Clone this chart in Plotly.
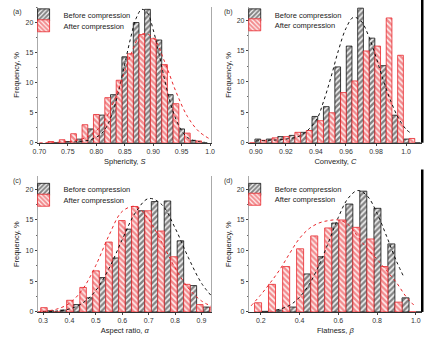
import plotly.graph_objects as go

# ---------------- data ----------------
# (a) Sphericity
a_bins = [0.725, 0.745, 0.765, 0.785, 0.805, 0.825, 0.845, 0.865, 0.885, 0.905, 0.925, 0.945, 0.965, 0.985]
a_before = [0.0, 0.2, 0.6, 2.3, 4.6, 8.0, 14.3, 20.0, 22.2, 17.1, 8.0, 2.3, 0.4, 0.0]
a_after = [0.2, 0.5, 1.5, 3.0, 4.7, 7.5, 10.4, 14.8, 18.0, 17.3, 13.0, 6.5, 1.6, 0.3]
a_binw = 0.02
a_fitb_x = [0.76, 0.77, 0.78, 0.79, 0.80, 0.81, 0.82, 0.83, 0.84, 0.85, 0.86, 0.87, 0.88, 0.89, 0.90, 0.91, 0.92, 0.93, 0.94, 0.95, 0.96, 0.97, 0.98, 0.99]
a_fitb_y = [0.1, 0.2, 0.3, 0.5, 0.9, 1.6, 3.0, 5.4, 8.9, 13.1, 17.3, 20.7, 22.2, 21.6, 18.8, 14.9, 10.5, 6.7, 3.9, 2.0, 0.9, 0.4, 0.2, 0.1]
a_fita_x = [0.70, 0.72, 0.74, 0.76, 0.78, 0.80, 0.82, 0.84, 0.86, 0.88, 0.90, 0.92, 0.94, 0.96, 0.98, 1.00]
a_fita_y = [0.0, 0.05, 0.1, 0.3, 0.8, 2.0, 4.6, 9.2, 14.5, 18.1, 17.5, 13.5, 8.5, 4.4, 1.9, 0.6]

# (b) Convexity
b_bins = [0.8994, 0.9070, 0.9146, 0.9222, 0.9298, 0.9374, 0.9450, 0.9526, 0.9602, 0.9678, 0.9754, 0.9830, 0.9906, 0.9982, 1.0058]
b_before = [0.6, 0.6, 1.0, 1.2, 1.7, 4.3, 5.9, 12.4, 15.8, 22.0, 17.1, 12.6, 4.5, 0.6, 0.0]
b_after = [0.0, 0.4, 0.8, 1.0, 1.7, 2.0, 3.6, 4.9, 8.2, 10.1, 15.0, 15.8, 20.4, 14.3, 0.7]
b_binw = 0.0076
b_fitb_x = [0.90, 0.91, 0.92, 0.93, 0.94, 0.945, 0.95, 0.955, 0.96, 0.965, 0.97, 0.975, 0.98, 0.985, 0.99, 0.995, 1.0, 1.003]
b_fitb_y = [0.3, 0.4, 0.6, 1.2, 3.6, 6.7, 10.7, 15.1, 18.7, 20.5, 19.9, 17.5, 14.0, 10.1, 6.7, 4.0, 2.2, 1.6]

# (c) Aspect ratio
c_bins = [0.316, 0.365, 0.414, 0.464, 0.513, 0.562, 0.611, 0.660, 0.710, 0.759, 0.808, 0.857, 0.906, 0.956]
c_before = [0.2, 0.3, 1.2, 2.3, 5.6, 8.8, 13.5, 16.5, 18.0, 18.1, 11.6, 4.3, 0.8, 0.0]
c_after = [0.7, 0.0, 1.9, 4.0, 6.7, 11.4, 14.9, 17.2, 16.5, 13.2, 9.0, 4.5, 1.2, 0.8]
c_binw = 0.0492
c_fitb_x = [0.30, 0.35, 0.40, 0.45, 0.50, 0.55, 0.60, 0.65, 0.70, 0.75, 0.80, 0.85, 0.90, 0.94]
c_fitb_y = [0.03, 0.14, 0.49, 1.45, 3.5, 7.1, 11.8, 16.2, 18.5, 17.5, 13.7, 8.9, 4.7, 2.5]
c_fita_x = [0.28, 0.30, 0.35, 0.40, 0.45, 0.50, 0.55, 0.60, 0.65, 0.70, 0.75, 0.80, 0.85, 0.90, 0.94]
c_fita_y = [0.06, 0.1, 0.44, 1.4, 3.7, 7.6, 12.5, 16.4, 17.2, 15.1, 11.3, 7.2, 3.9, 1.8, 0.9]

# (d) Flatness
d_bins = [0.204, 0.276, 0.349, 0.421, 0.494, 0.566, 0.639, 0.711, 0.784, 0.856, 0.929, 1.001]
d_before = [0.1, 0.3, 0.8, 6.2, 9.0, 14.5, 17.6, 19.7, 16.9, 11.1, 2.3, 0.0]
d_after = [1.5, 4.5, 7.4, 10.3, 12.4, 13.7, 15.0, 13.8, 11.9, 7.4, 1.6, 0.0]
d_binw = 0.0725
d_fitb_x = [0.28, 0.30, 0.35, 0.40, 0.45, 0.50, 0.55, 0.60, 0.65, 0.70, 0.75, 0.80, 0.85, 0.90, 0.94]
d_fitb_y = [0.3, 0.47, 1.1, 2.4, 4.5, 7.6, 11.4, 15.4, 18.5, 19.8, 18.9, 16.1, 12.3, 8.3, 5.6]
d_fita_x = [0.15, 0.20, 0.25, 0.30, 0.35, 0.40, 0.45, 0.50, 0.55, 0.60, 0.65, 0.70, 0.75, 0.80, 0.85, 0.90, 0.95, 1.00]
d_fita_y = [1.0, 2.8, 4.8, 7.0, 9.6, 12.0, 13.6, 14.5, 14.9, 15.0, 14.3, 12.3, 10.3, 8.6, 6.7, 4.8, 2.5, 0.8]

series_names = ["Before compression", "After compression"]
x_titles = ["Sphericity, <i>S</i>", "Convexity, <i>C</i>", "Aspect ratio, <i>α</i>", "Flatness, <i>β</i>"]
y_title = "Frequency, %"
panel_labels = ["(a)", "(b)", "(c)", "(d)"]
x_tickvals = [
    [0.70, 0.75, 0.80, 0.85, 0.90, 0.95, 1.0],
    [0.90, 0.92, 0.94, 0.96, 0.98, 1.0],
    [0.3, 0.4, 0.5, 0.6, 0.7, 0.8, 0.9],
    [0.2, 0.4, 0.6, 0.8, 1.0],
]
x_ticktext = [
    ["0.70", "0.75", "0.80", "0.85", "0.90", "0.95", "1.0"],
    ["0.90", "0.92", "0.94", "0.96", "0.98", "1.0"],
    ["0.3", "0.4", "0.5", "0.6", "0.7", "0.8", "0.9"],
    ["0.2", "0.4", "0.6", "0.8", "1.0"],
]
y_tickvals = [0, 5, 10, 15, 20]

# ---------------- styling / layout ----------------
W, H = 442, 343
BLACK = "#111111"
RED = "#e8262b"
FONT = "Liberation Sans, Arial, sans-serif"

panels = [
    dict(bins=a_bins, before=a_before, after=a_after, w=a_binw,
         fb=(a_fitb_x, a_fitb_y), fa=(a_fita_x, a_fita_y),
         xr=[0.698, 1.002], yr=[0, 22.6], px=(33, 210), py=(7, 144), leg=(15, 26)),
    dict(bins=b_bins, before=b_before, after=b_after, w=b_binw,
         fb=(b_fitb_x, b_fitb_y), fa=None,
         xr=[0.8957, 1.0102], yr=[0, 22.2], px=(249, 425), py=(7, 144), leg=(15, 25)),
    dict(bins=c_bins, before=c_before, after=c_after, w=c_binw,
         fb=(c_fitb_x, c_fitb_y), fa=(c_fita_x, c_fita_y),
         xr=[0.282, 0.937], yr=[0, 22.1], px=(33, 210), py=(178, 314.7), leg=(191, 202)),
    dict(bins=d_bins, before=d_before, after=d_after, w=d_binw,
         fb=(d_fitb_x, d_fitb_y), fa=(d_fita_x, d_fita_y),
         xr=[0.141, 1.029], yr=[0, 22.1], px=(249, 425), py=(178, 314.7), leg=(191, 201)),
]

fig = go.Figure()
layout = dict(
    width=W, height=H, margin=dict(l=0, r=0, t=0, b=0),
    paper_bgcolor="white", plot_bgcolor="white",
    barmode="overlay", showlegend=True,
    font=dict(family=FONT, size=7, color="#333"),
)
annotations = []
shapes = []

for i, p in enumerate(panels):
    n = i + 1
    xa = "x" if n == 1 else f"x{n}"
    ya = "y" if n == 1 else f"y{n}"
    lg_b = "legend" if n == 1 else f"legend{2 * i + 1}"
    lg_a = f"legend{2 * i + 2}"
    half = p["w"] / 2
    x_after = [c - p["w"] / 4 for c in p["bins"]]
    x_before = [c + p["w"] / 4 for c in p["bins"]]

    fig.add_trace(go.Bar(
        x=x_before, y=p["before"], width=half, name=series_names[0],
        xaxis=xa, yaxis=ya, legend=lg_b,
        marker=dict(color="white",
                    pattern=dict(shape="/", fgcolor=BLACK, bgcolor="#f4f4f4", size=4, solidity=0.6),
                    line=dict(color=BLACK, width=0.8)),
    ))
    fig.add_trace(go.Bar(
        x=x_after, y=p["after"], width=half, name=series_names[1],
        xaxis=xa, yaxis=ya, legend=lg_a,
        marker=dict(color="white",
                    pattern=dict(shape="\\", fgcolor=RED, bgcolor="#fdf0f0", size=4, solidity=0.6),
                    line=dict(color=RED, width=0.8)),
    ))
    fig.add_trace(go.Scatter(
        x=p["fb"][0], y=p["fb"][1], mode="lines", line=dict(color=BLACK, width=1, dash="dot", shape="spline"),
        xaxis=xa, yaxis=ya, showlegend=False, hoverinfo="skip"))
    if p["fa"] is not None:
        fig.add_trace(go.Scatter(
            x=p["fa"][0], y=p["fa"][1], mode="lines", line=dict(color=RED, width=1, dash="dot", shape="spline"),
            xaxis=xa, yaxis=ya, showlegend=False, hoverinfo="skip"))

    x0, x1 = p["px"]
    yt, yb = p["py"]
    xkey = "xaxis" if n == 1 else f"xaxis{n}"
    ykey = "yaxis" if n == 1 else f"yaxis{n}"
    layout[xkey] = dict(
        domain=[x0 / W, x1 / W], anchor=ya, range=p["xr"],
        tickvals=x_tickvals[i], ticktext=x_ticktext[i],
        ticks="outside", ticklen=2, tickcolor="#444", showgrid=False, zeroline=False,
        showline=True, linecolor="#333", linewidth=1,
        tickfont=dict(size=7, color="#333"),
        title=dict(text=x_titles[i], font=dict(size=7.5, color="#222"), standoff=4),
    )
    layout[ykey] = dict(
        domain=[1 - yb / H, 1 - yt / H], anchor=xa, range=p["yr"],
        tickvals=y_tickvals, ticks="outside", ticklen=2.5, tickcolor="#444",
        minor=dict(ticks="outside", ticklen=1.5, dtick=2.5, tickcolor="#666"),
        showgrid=False, zeroline=False,
        showline=True, linecolor="#aaa", linewidth=1, mirror=True,
        tickfont=dict(size=7, color="#333"),
        title=dict(text=y_title, font=dict(size=7.5, color="#222"), standoff=4),
    )
    for lg, yc in ((lg_b, p["leg"][0]), (lg_a, p["leg"][1])):
        layout[lg] = dict(
            x=(x0 - 15) / W, y=1 - yc / H, xanchor="left", yanchor="middle",
            bgcolor="rgba(0,0,0,0)", font=dict(size=7.5, color="#222"),
            itemwidth=30, tracegroupgap=0,
        )
    annotations.append(dict(
        text=panel_labels[i], x=(x0 - 28) / W, y=1 - (yt - 1) / H,
        xref="paper", yref="paper", xanchor="left", yanchor="top",
        showarrow=False, font=dict(size=7, color="#333")))
    if n in (2, 4):
        shapes.append(dict(type="line", xref=f"{xa} domain", yref="paper",
                           x0=1.005, x1=1.005, y0=1 - yb / H, y1=1 - (yt - 7) / H,
                           line=dict(color="black", width=2.5)))

layout["annotations"] = annotations
layout["shapes"] = shapes
fig.update_layout(**layout)
fig.write_html("out.html")
